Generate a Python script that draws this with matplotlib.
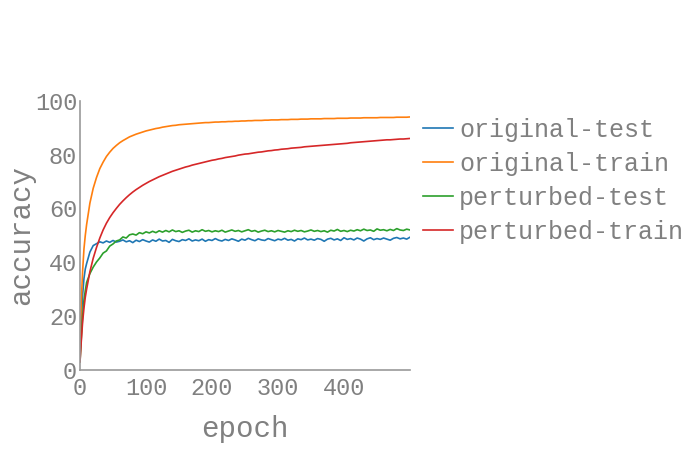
import matplotlib
matplotlib.use("Agg")
import matplotlib.pyplot as plt

epochs = [0, 2, 4, 6, 8] + list(range(10, 501, 5))

original_test = [5, 19, 28, 34, 37.5,
    39.5, 43.8, 46.2, 46.9, 47.6, 47.2, 47.9, 47.4, 48.1, 47.5,
    47.8, 48.3, 47.6, 48.0, 47.3, 48.2, 47.7, 48.4, 47.9, 47.5,
    48.3, 47.8, 48.6, 47.9, 48.1, 47.4, 48.5, 48.0, 47.7, 48.4,
    48.1, 48.7, 47.9, 48.3, 48.0, 48.6, 47.8, 48.4, 48.1, 48.8,
    48.2, 47.9, 48.5, 48.1, 48.7, 48.3, 47.8, 48.6, 48.2, 48.9,
    48.4, 48.0, 48.7, 48.3, 48.1, 48.8, 48.4, 48.0, 48.6, 48.3,
    48.9, 48.2, 48.5, 47.9, 48.7, 48.4, 49.0, 48.3, 48.6, 48.2,
    48.8, 48.5, 47.8, 48.6, 48.9, 48.3, 48.7, 48.1, 49.1, 48.5,
    48.8, 48.3, 49.0, 48.6, 47.9, 48.7, 49.1, 48.4, 48.8, 48.5,
    49.0, 48.6, 48.2, 48.9, 49.2, 48.7, 49.0, 48.6, 49.3]

original_train = [8, 26, 37, 45, 50,
    54, 62, 67.5, 71.5, 74.8, 77.2, 79.3, 80.9, 82.3, 83.4,
    84.4, 85.2, 85.9, 86.6, 87.1, 87.6, 88.0, 88.4, 88.8, 89.1,
    89.4, 89.7, 89.9, 90.2, 90.4, 90.6, 90.8, 90.9, 91.1, 91.2,
    91.3, 91.4, 91.5, 91.6, 91.7, 91.8, 91.9, 91.9, 92.0, 92.1,
    92.1, 92.2, 92.2, 92.3, 92.3, 92.4, 92.4, 92.5, 92.5, 92.6,
    92.6, 92.7, 92.7, 92.7, 92.8, 92.8, 92.9, 92.9, 92.9, 93.0,
    93.0, 93.0, 93.1, 93.1, 93.1, 93.2, 93.2, 93.2, 93.3, 93.3,
    93.3, 93.3, 93.4, 93.4, 93.4, 93.4, 93.5, 93.5, 93.5, 93.5,
    93.6, 93.6, 93.6, 93.6, 93.7, 93.7, 93.7, 93.7, 93.7, 93.8,
    93.8, 93.8, 93.8, 93.8, 93.9, 93.9, 93.9, 93.9, 94.0]

perturbed_test = [3, 12, 20, 26, 29.5,
    32.5, 35.8, 38.2, 40.1, 41.6, 43.4, 44.2, 46.0, 46.8, 47.9,
    48.3, 49.4, 49.0, 50.2, 50.5, 50.1, 51.0, 50.6, 51.3, 50.9,
    51.5, 51.0, 51.7, 51.2, 51.8, 51.3, 52.0, 51.4, 51.7, 51.1,
    51.6, 51.9, 51.2, 51.7, 51.4, 52.1, 51.5, 51.8, 51.3, 51.7,
    51.4, 51.9, 51.2, 51.6, 52.0, 51.5, 51.8, 51.3, 51.7, 52.1,
    51.5, 51.8, 51.2, 51.6, 51.9, 51.4, 51.7, 51.3, 51.8, 51.5,
    51.2, 51.7, 51.4, 51.9, 51.5, 51.8, 51.3, 51.6, 52.0, 51.5,
    51.8, 51.4, 51.7, 51.2, 51.9, 51.6, 52.2, 51.5, 51.8, 51.4,
    51.9, 51.6, 52.1, 51.7, 52.3, 51.8, 52.0, 51.5, 52.4, 51.9,
    52.1, 51.7, 52.2, 51.8, 52.5, 52.0, 51.8, 52.3, 52.0]

perturbed_train = [3, 11, 18, 23, 27,
    30, 36.5, 41.5, 45.5, 49, 52, 54.5, 56.6, 58.4, 60,
    61.5, 62.8, 64, 65.1, 66.1, 67, 67.8, 68.6, 69.3, 70,
    70.6, 71.2, 71.8, 72.3, 72.8, 73.3, 73.8, 74.2, 74.6, 75,
    75.4, 75.7, 76.1, 76.4, 76.7, 77, 77.3, 77.6, 77.9, 78.1,
    78.4, 78.6, 78.9, 79.1, 79.3, 79.5, 79.8, 80, 80.2, 80.3,
    80.5, 80.7, 80.9, 81, 81.2, 81.4, 81.5, 81.7, 81.8, 82,
    82.1, 82.2, 82.4, 82.5, 82.6, 82.7, 82.9, 83, 83.1, 83.2,
    83.3, 83.4, 83.5, 83.6, 83.7, 83.8, 83.9, 84, 84.1, 84.2,
    84.4, 84.5, 84.6, 84.7, 84.8, 84.9, 85.0, 85.1, 85.2, 85.3,
    85.4, 85.5, 85.5, 85.6, 85.7, 85.8, 85.8, 85.9, 86.0]

series = [("original-test", original_test, "#1f77b4"),
          ("original-train", original_train, "#ff7f0e"),
          ("perturbed-test", perturbed_test, "#2ca02c"),
          ("perturbed-train", perturbed_train, "#d62728")]

font = "Liberation Mono"
grey = "#808080"

fig = plt.figure(figsize=(7, 4.5), dpi=100)
ax = fig.add_axes([0.1143, 0.178, 0.4714, 0.598])

for name, vals, col in series:
    ax.plot(epochs, vals, color=col, lw=1.2, label=name)

ax.set_xlim(0, 500)
ax.set_ylim(0, 100)
ax.set_xticks([0, 100, 200, 300, 400])
ax.set_yticks([0, 20, 40, 60, 80, 100])
ax.tick_params(axis="y", length=0, pad=2, labelsize=17, labelcolor=grey)
ax.tick_params(axis="x", length=0, pad=5, labelsize=17, labelcolor=grey)
for lab in ax.get_xticklabels() + ax.get_yticklabels():
    lab.set_fontfamily(font)

for s in ["top", "right"]:
    ax.spines[s].set_visible(False)
for s in ["left", "bottom"]:
    ax.spines[s].set_color("#999999")
    ax.spines[s].set_linewidth(1.2)

ax.set_xlabel("epoch", fontsize=21, color=grey, family=font, labelpad=11)
ax.set_ylabel("accuracy", fontsize=21, color=grey, family=font, labelpad=0)

leg = ax.legend(loc="upper left", bbox_to_anchor=(1.008, 0.975), frameon=False,
                prop={"family": font, "size": 18}, handlelength=1.2,
                handletextpad=0.25, labelspacing=0.4, borderaxespad=0)
for t in leg.get_texts():
    t.set_color(grey)

fig.savefig("out.png", dpi=100)
